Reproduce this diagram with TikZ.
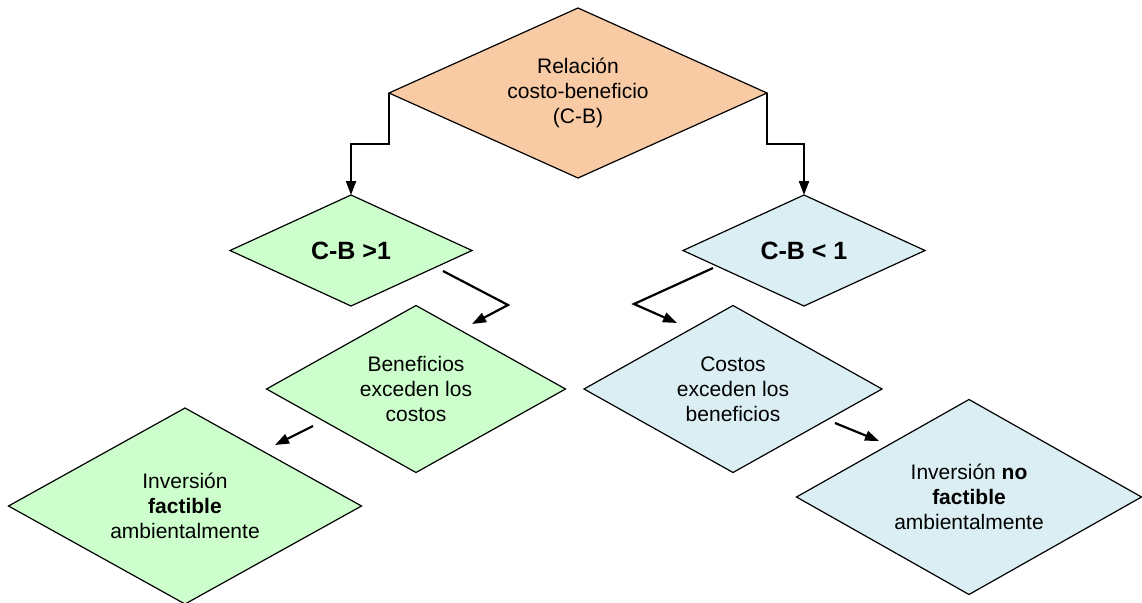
\documentclass[tikz,border=0pt]{standalone}
\usepackage{fontspec}
\setmainfont{Liberation Sans}
\usepackage{xcolor}
\definecolor{cbpeach}{HTML}{F9CBA5}
\definecolor{cbgreen}{HTML}{CCFFCC}
\definecolor{cbblue}{HTML}{DAEEF3}
\usetikzlibrary{arrows.meta,positioning,shapes.geometric}
\tikzset{
  dm/.style={diamond, draw=black, line width=1.2pt, align=center,
             inner sep=0pt, outer sep=0pt, font=\fontsize{21}{25}\selectfont},
  dpeach/.style={dm, fill=cbpeach},
  dgreen/.style={dm, fill=cbgreen},
  dblue/.style={dm, fill=cbblue},
  dbig/.style={font=\fontsize{25}{30}\selectfont\bfseries},
  ar/.style={-{Triangle[length=14pt,width=10pt]}, draw=black, line width=2.2pt},
}

\begin{document}
\begin{tikzpicture}[x=1pt, y=-1pt]
  \useasboundingbox (0,0) rectangle (1142,602);
  \node[dpeach, minimum width=378pt, minimum height=170pt, shape aspect=2.22] (rel) at (578,93)
    {Relación\\costo-beneficio\\(C-B)};
  \node[dgreen, dbig, minimum width=242pt, minimum height=111pt, shape aspect=2.18] (gt) at (351,250.5) {C-B >1};
  \node[dblue, dbig, minimum width=242pt, minimum height=111pt, shape aspect=2.18] (lt) at (804,250.5) {C-B < 1};
  \node[dgreen, minimum width=299pt, minimum height=167pt, shape aspect=1.79] (bene) at (416,389)
    {Beneficios\\exceden los\\costos};
  \node[dblue, minimum width=298pt, minimum height=167pt, shape aspect=1.78] (cost) at (733,389)
    {Costos\\exceden los\\beneficios};
  \node[dgreen, minimum width=353pt, minimum height=196pt, shape aspect=1.8] (fact) at (185,506)
    {Inversión\\\textbf{factible}\\ambientalmente};
  \node[dblue, minimum width=345pt, minimum height=195pt, shape aspect=1.77] (nofact) at (969,497)
    {Inversión \textbf{no}\\\textbf{factible}\\ambientalmente};
  % free ends of the short connectors
  \coordinate (gtout) at (443,271);
  \coordinate (benein) at (472,324);
  \coordinate (ltout) at (713,268);
  \coordinate (costin) at (677,323);
  \coordinate (beneout) at (313,426);
  \coordinate (factin) at (275,445);
  \coordinate (costout) at (835,423);
  \coordinate (nofactin) at (879,441);
  \draw[ar] (rel.west) -- ++(0,51) -| (gt.north);
  \draw[ar] (rel.east) -- ++(0,51) -| (lt.north);
  \draw[ar] (gtout) -- (508,305) -- (benein);
  \draw[ar] (ltout) -- (634,304) -- (costin);
  \draw[ar] (beneout) -- (factin);
  \draw[ar] (costout) -- (nofactin);
\end{tikzpicture}
\end{document}
